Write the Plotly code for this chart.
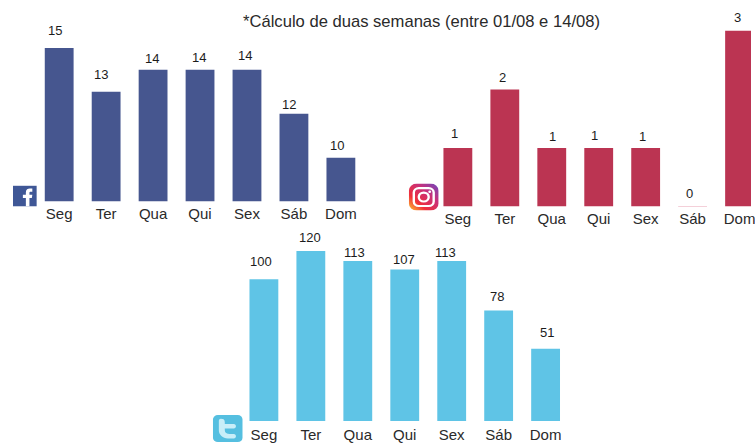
import base64
import plotly.graph_objects as go

days = ["Seg", "Ter", "Qua", "Qui", "Sex", "Sáb", "Dom"]
facebook = [15, 13, 14, 14, 14, 12, 10]
instagram = [1, 2, 1, 1, 1, 0, 3]
twitter = [100, 120, 113, 107, 113, 78, 51]
title_text = "*Cálculo de duas semanas (entre 01/08 e 14/08)"

W, H = 755, 443
FONT = "Liberation Sans, Arial, sans-serif"
TXT = "#2a2a2a"
STEP = 47.2


def dx(a, b):
    return [a / W, b / W]


def dy(top, bottom):
    return [1 - bottom / H, 1 - top / H]


fig = go.Figure()
panels = [
    ("x", "y", facebook, "#46568f", dx(35.9, 35.9 + 7 * STEP), dy(20, 202), [-0.5, 6.5], [8, 8 + 182 / 22],
     [-4, -5, -1, -1, -2, -5, -4], [17, 17, 11, 12, 14, 9, 12], 1),
    ("x2", "y2", instagram, "#bb3452", dx(436.7, 755), dy(20, 207), [-0.5, -0.5 + (755 - 436.7) / STEP], [0, 187 / 58.7],
     [-3, -2, 1, -4, -3, -3, -2], [14, 12, 11, 12, 11, 13, 13], 1),
    ("x3", "y3", twitter, "#5fc4e6", dx(241.7, 241.7 + 7 * STEP), dy(225, 422), [-0.5, 6.5], [0, 197 / 1.42],
     [-3, -1, -3, -1, -6, -2, 1], [18, 14, 8, 10, 8, 14, 16], 3),
]

annotations = [dict(
    text=title_text, x=423.5 / W, y=1 - 22 / H, xref="paper", yref="paper",
    xanchor="center", yanchor="middle", showarrow=False,
    font=dict(family=FONT, size=16.6, color=TXT),
)]

for i, (xa, ya, vals, color, xdom, ydom, xr, yr, xoff, yoff, standoff) in enumerate(panels):
    fig.add_trace(go.Bar(
        x=days, y=[v - yr[0] for v in vals], base=yr[0], xaxis=xa, yaxis=ya,
        marker=dict(color=color, line=dict(width=[1 if v == 0 else 0 for v in vals], color="#f0c0cc")),
        hoverinfo="skip", showlegend=False,
    ))
    suffix = "" if i == 0 else str(i + 1)
    fig.update_layout(**{
        f"xaxis{suffix}": dict(
            domain=xdom, range=xr, type="category", categoryorder="array", categoryarray=days,
            anchor=ya, showgrid=False, zeroline=False, showline=False, ticks="",
            ticklabelstandoff=standoff, tickangle=0,
            tickfont=dict(family=FONT, size=15, color=TXT),
        ),
        f"yaxis{suffix}": dict(
            domain=ydom, range=yr, anchor=xa, visible=False,
        ),
    })
    for d, v, ox, oy in zip(days, vals, xoff, yoff):
        annotations.append(dict(
            text=str(v), x=d, y=v, xref=xa, yref=ya, xanchor="center", yanchor="middle",
            xshift=ox, yshift=oy, showarrow=False, align="center",
            font=dict(family=FONT, size=13, color="#1c1c1c"),
        ))

fb_svg = ('<svg xmlns="http://www.w3.org/2000/svg" viewBox="0 0 24 22"><rect width="24" height="22" fill="#3f5796"/>'
          '<path d="M13 22V13H10V9.5H13V7C13 4 15 3 17 3H19.5V6.5H18C16.8 6.5 16.6 7 16.6 8V9.5H19.5L19 13H16.6V22Z" fill="#fff"/></svg>')
ig_svg = ('<svg xmlns="http://www.w3.org/2000/svg" viewBox="0 0 30 30"><defs><linearGradient id="g" x1="0" y1="1" x2="1" y2="0">'
          '<stop offset="0" stop-color="#fdc830"/><stop offset="0.3" stop-color="#f0303a"/><stop offset="0.65" stop-color="#c8307a"/>'
          '<stop offset="1" stop-color="#6a48c0"/></linearGradient></defs><rect width="30" height="30" rx="8" fill="url(#g)"/>'
          '<rect x="5" y="5" width="20" height="20" rx="5" fill="none" stroke="#fff" stroke-width="2.4"/>'
          '<circle cx="15" cy="15" r="5" fill="none" stroke="#fff" stroke-width="2.4"/><circle cx="21" cy="9" r="1.4" fill="#fff"/></svg>')
tw_svg = ('<svg xmlns="http://www.w3.org/2000/svg" viewBox="0 0 30 30"><rect width="30" height="30" rx="5" fill="#55bfe0"/>'
          '<path d="M8 4C11 4 12 5 12 8V10H21C24 10 24 15 21 15H12V17C12 20 14 21 17 21H21C24 21 24 26 21 26H15C10 26 6 22 6 17V7C6 5 6.5 4 8 4Z" fill="#c8eef8"/></svg>')


def uri(svg):
    return "data:image/svg+xml;base64," + base64.b64encode(svg.encode()).decode()


def img(svg, x0, y0, w, h):
    return dict(source=uri(svg), xref="paper", yref="paper", x=x0 / W, y=1 - y0 / H,
                sizex=w / W, sizey=h / H, xanchor="left", yanchor="top", sizing="stretch", layer="above")


fig.update_layout(
    width=W, height=H, autosize=False,
    margin=dict(l=0, r=0, t=0, b=0),
    paper_bgcolor="#ffffff", plot_bgcolor="rgba(0,0,0,0)",
    bargap=0.386, showlegend=False,
    annotations=annotations,
    images=[img(fb_svg, 13, 186, 24, 21), img(ig_svg, 411, 184, 30, 27), img(tw_svg, 214, 416, 30, 27)],
)
fig.write_html(
    "out.html",
    config={"displayModeBar": False},
    post_script="document.body.style.margin='0';document.body.style.overflow='hidden';",
)
